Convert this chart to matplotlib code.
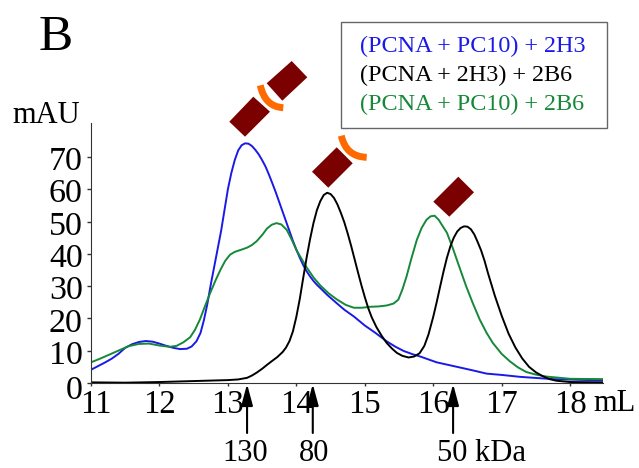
import matplotlib
matplotlib.use("Agg")
import matplotlib.pyplot as plt
from matplotlib.patches import Polygon, PathPatch, Rectangle
from matplotlib.path import Path
from matplotlib.transforms import ScaledTranslation

plt.rcParams["font.family"] = ["Liberation Serif", "DejaVu Serif"]

blue_x = [11, 11.1, 11.2, 11.3, 11.4, 11.5, 11.6, 11.7, 11.8, 11.9, 12.0, 12.1, 12.2, 12.3, 12.4, 12.47,
          12.54, 12.6, 12.65, 12.7, 12.75, 12.8, 12.85, 12.9, 12.95, 13.0, 13.05, 13.1, 13.15, 13.2, 13.25,
          13.3, 13.35, 13.4, 13.45, 13.5, 13.55, 13.6, 13.65, 13.7, 13.75, 13.8, 13.85, 13.9, 13.95, 14.0,
          14.05, 14.1, 14.15, 14.2, 14.25, 14.3, 14.35, 14.45, 14.59, 14.7, 14.84, 15, 15.15, 15.32, 15.45,
          15.57, 15.7, 15.81, 16.05, 16.39, 16.6, 16.78, 17, 17.27, 17.75, 18.1, 18.48]
blue_y = [4.1, 5.2, 6.3, 7.5, 9, 10.9, 12, 12.7, 13, 12.8, 12.2, 11.5, 10.9, 10.5, 10.6, 11.3,
          12.9, 15.5, 19.5, 24.5, 30.5, 36, 41.5, 47, 53.5, 60, 65, 69, 72, 73.6, 74.2,
          74.1, 73.4, 72.2, 70.8, 69, 67, 64.5, 61.8, 59, 56, 53, 50, 47, 44, 41.3,
          38.8, 36.5, 34.6, 33, 31.6, 30.4, 29.4, 27.3, 24.7, 22.7, 20.6, 17.8, 15.6, 12.9, 11.2,
          9.9, 8.9, 8.2, 6.4, 4.8, 3.8, 2.9, 2.5, 1.9, 1.2, 1, 0.8]

black_x = [11, 11.5, 12, 12.5, 13, 13.15, 13.28, 13.35, 13.42, 13.5, 13.57, 13.65, 13.72, 13.8, 13.85, 13.9,
           13.95, 14.0, 14.05, 14.1, 14.15, 14.2, 14.25, 14.3, 14.35, 14.4, 14.45, 14.5, 14.55, 14.6, 14.65,
           14.7, 14.75, 14.8, 14.85, 14.9, 14.95, 15.0, 15.05, 15.1, 15.17, 15.25, 15.32, 15.4, 15.47, 15.55,
           15.64, 15.72, 15.8, 15.87, 15.93, 16, 16.05, 16.1, 16.15, 16.2, 16.25, 16.3, 16.35, 16.4, 16.45,
           16.5, 16.55, 16.6, 16.65, 16.7, 16.75, 16.8, 16.9, 17, 17.1, 17.2, 17.3, 17.4, 17.5, 17.6, 17.7,
           17.8, 18, 18.48]
black_y = [0.2, 0.1, 0.3, 0.6, 0.9, 1.1, 1.6, 2.3, 3.2, 4.4, 5.6, 6.9, 8, 9.6, 11, 13,
           16, 20.5, 26, 32.5, 38.8, 44.5, 49.5, 53.5, 56.3, 58.2, 58.9, 58.5, 57.3, 55.3, 52.7,
           49.8, 46.3, 42.5, 38.4, 34.3, 30.3, 26.6, 23.2, 20.4, 17.3, 14.5, 12.4, 10.6, 9.3, 8.4,
           7.9, 8.2, 9.2, 11.5, 15, 20.5, 25, 29.8, 34.5, 38.8, 42.3, 45, 46.9, 48, 48.5,
           48.4, 47.6, 46, 43.6, 41, 37.8, 34, 27, 20.8, 15.3, 11, 7.6, 5, 3.3, 2.1, 1.2,
           0.7, 0.3, 0.2]

green_x = [11, 11.14, 11.28, 11.42, 11.55, 11.7, 11.85, 12, 12.15, 12.25, 12.35, 12.45, 12.52, 12.59, 12.66,
           12.74, 12.82, 12.89, 12.96, 13.03, 13.1, 13.2, 13.28, 13.35, 13.42, 13.5, 13.57, 13.64, 13.71, 13.78,
           13.86, 13.93, 14, 14.08, 14.15, 14.25, 14.35, 14.47, 14.59, 14.72, 14.84, 14.96, 15.08, 15.2, 15.32,
           15.42, 15.49, 15.55, 15.61, 15.68, 15.76, 15.83, 15.9, 15.96, 16.02, 16.08, 16.14, 16.2, 16.29, 16.38,
           16.48, 16.58, 16.68, 16.78, 16.87, 17, 17.12, 17.24, 17.36, 17.5, 17.65, 18, 18.48]
green_y = [6.4, 7.6, 8.9, 10.2, 11.4, 12.1, 12.2, 11.6, 11.2, 11.5, 12.6, 14.2, 16.5, 19.6, 23.5,
           27.8, 31.8, 35, 37.8, 39.7, 40.6, 41.3, 41.9, 42.7, 43.9, 45.8, 47.8, 49, 49.5, 49.1,
           47.4, 44.5, 41.2, 38.3, 35.8, 32.7, 30.2, 27.8, 25.9, 24.2, 23.3, 23.3, 23.6, 23.7, 24,
           24.6, 25.8, 29, 33, 38.5, 44.3, 48, 50.5, 51.6, 51.8, 50.5, 48.5, 46.5, 41.5, 36,
           30, 24.6, 19.6, 15.5, 12.4, 9, 6.7, 4.8, 3.4, 2.6, 2, 1.3, 1.2]

x_ticks = [11, 12, 13, 14, 15, 16, 17, 18]
y_ticks = [0, 10, 20, 30, 40, 50, 60, 70]
legend_labels = ["(PCNA + PC10) + 2H3", "(PCNA + 2H3) + 2B6", "(PCNA + PC10) + 2B6"]
marker_x = [13.28, 14.24, 16.29]
marker_labels = ["130", "80", "50 kDa"]

BLUE = "#1a1ae6"
GREEN = "#15883a"
DARKRED = "#7b0000"
ORANGE = "#ff6a00"
W, H = 639, 468

fig = plt.figure(figsize=(W / 100, H / 100), dpi=100)
# axes box in pixels: x 91-603, y 123-383
ax = fig.add_axes([91 / W, (H - 383) / H, 512 / W, 260 / H])
ax.plot(blue_x, blue_y, color=BLUE, lw=1.4)
ax.plot(green_x, green_y, color=GREEN, lw=1.4)
ax.plot(black_x, black_y, color="black", lw=1.4)
ax.set_xlim(11, 18.48)
ax.set_ylim(0, 80.5)
ax.set_xticks(x_ticks)
ax.set_yticks(y_ticks)
ax.tick_params(axis="x", labelsize=23.5, length=2.5, width=1, color="#333333", pad=2)
ax.tick_params(axis="y", labelsize=24.5, length=3, width=1, color="#333333", pad=3)
ax.spines["top"].set_visible(False)
ax.spines["right"].set_visible(False)
ax.spines["left"].set_color("#333333")
ax.spines["bottom"].set_color("#333333")

# nudge the labels round the origin apart, as in the picture
for i, lab in enumerate(ax.get_yticklabels()):
    dy = -3 if i == 0 else -1
    lab.set_transform(lab.get_transform() + ScaledTranslation(0, dy / 72, fig.dpi_scale_trans))
first = ax.get_xticklabels()[0]
first.set_transform(first.get_transform() + ScaledTranslation(3.5 / 72, 0, fig.dpi_scale_trans))

# overlay in image pixels for the drawn decorations
ov = fig.add_axes([0, 0, 1, 1])
ov.set_xlim(0, W)
ov.set_ylim(H, 0)
ov.axis("off")
ov.patch.set_alpha(0)

ov.text(39, 50, "B", fontsize=37, ha="left", va="baseline")
ov.text(12, 123, "mAU", fontsize=22, ha="left", va="baseline")
ov.text(593, 411, "mL", fontsize=22, ha="left", va="baseline")

ov.add_patch(Rectangle((341, 21.5), 265.5, 106, fc="white", ec="#666666", lw=1))
for label, col, y in zip(legend_labels, [BLUE, "black", GREEN], [46, 75, 104]):
    ov.text(360, y, label, color=col, fontsize=17.4, ha="left", va="center")

rects = [
    [(229.3, 121.7), (253.3, 96.7), (270, 111.7), (245, 136.7)],
    [(266.7, 83.3), (291.7, 61), (307.3, 77.3), (282.3, 100.7)],
    [(312, 171.7), (336.7, 147.3), (352.7, 163.3), (328.3, 187.7)],
    [(433.3, 201.7), (458.3, 176.7), (474, 192.3), (449.3, 216.7)],
]
for r in rects:
    ov.add_patch(Polygon(r, closed=True, fc=DARKRED, ec="none"))

arcs = [
    [(260.3, 85.3), (264.8, 106.8), (283.3, 107.7)],
    [(341.3, 135.7), (346, 156.8), (366.7, 157.3)],
]
for a in arcs:
    p = Path(a, [Path.MOVETO, Path.CURVE3, Path.CURVE3])
    ov.add_patch(PathPatch(p, fc="none", ec=ORANGE, lw=5, capstyle="butt"))

text_x = [245, 314, 437]
text_ha = ["center", "center", "left"]
for mx, label, tx, ha in zip(marker_x, marker_labels, text_x, text_ha):
    ax.annotate("", xy=(mx, H - 384), xytext=(mx, H - 433),
                xycoords=("data", "figure pixels"), textcoords=("data", "figure pixels"),
                arrowprops=dict(arrowstyle="-|>,head_length=1.3,head_width=0.35", color="black", lw=1.5,
                                shrinkA=0, shrinkB=0), annotation_clip=False)
    ov.text(tx, 461, label, fontsize=22, ha=ha, va="baseline")

fig.savefig("out.png", dpi=100)
